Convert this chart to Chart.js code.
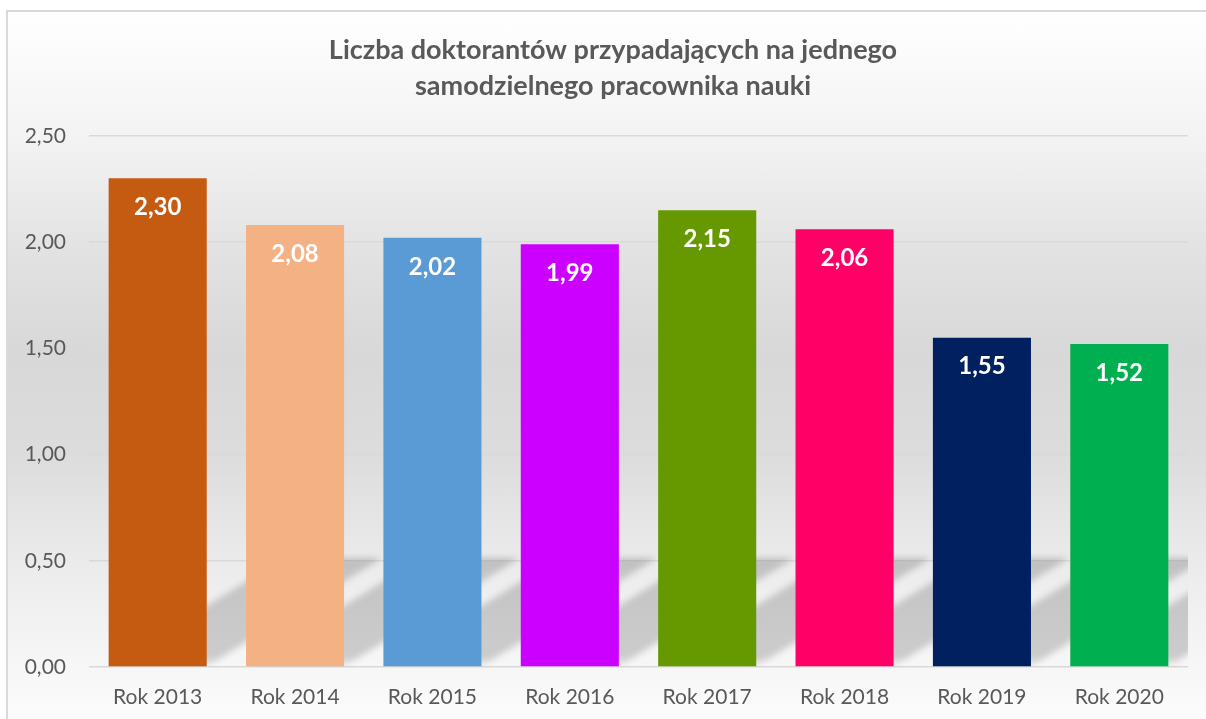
<!DOCTYPE html>
<html>
<head>
<meta charset="utf-8">
<script src="https://cdn.jsdelivr.net/npm/chart.js@4.4.1/dist/chart.umd.min.js"></script>
<style>
  html, body { margin: 0; padding: 0; background: #ffffff; width: 1206px; height: 719px; overflow: hidden; }
  #frame {
    position: absolute; left: 6px; top: 10px; width: 1220px; height: 730px;
    border: 2px solid #d9d9d9; box-sizing: border-box;
    background: linear-gradient(to bottom,
      #ffffff 0px, #f3f3f3 126px, #e2e2e2 240px, #d8d8d8 340px,
      #dcdcdc 440px, #ebebeb 550px, #f4f4f4 630px, #fcfcfc 709px, #ffffff 730px);
  }
  #wrap { position: absolute; left: 0; top: 0; width: 1206px; height: 719px; }
</style>
</head>
<body>
<div id="frame"></div>
<div id="wrap"><canvas id="c" width="1206" height="719"></canvas></div>
<script>
const titleLines = ['Liczba doktorantów przypadających na jednego', 'samodzielnego pracownika nauki'];
const categories = ['Rok 2013', 'Rok 2014', 'Rok 2015', 'Rok 2016', 'Rok 2017', 'Rok 2018', 'Rok 2019', 'Rok 2020'];
const values = [2.30, 2.08, 2.02, 1.99, 2.15, 2.06, 1.55, 1.52];
const barColors = ['#c55a11', '#f4b183', '#5b9bd5', '#cc00ff', '#669900', '#ff0066', '#002060', '#00b050'];
const yMin = 0, yMax = 2.5, yStep = 0.5;

const fmt = v => v.toFixed(2).replace('.', ',');

// centre the title block over the plot frame rather than the full canvas
const titleShift = {
  id: 'titleShift',
  afterLayout(chart) {
    if (chart.titleBlock) chart.titleBlock.left = 38;
  }
};

// soft perspective shadows cast up-right behind each bar
const shadowPlugin = {
  id: 'barShadows',
  beforeDatasetsDraw(chart) {
    const ctx = chart.ctx;
    const area = chart.chartArea;
    const meta = chart.getDatasetMeta(0);
    ctx.save();
    ctx.beginPath();
    ctx.rect(area.left, area.top, area.right - area.left, area.bottom - area.top);
    ctx.clip();
    ctx.filter = 'blur(3px)';
    meta.data.forEach(bar => {
      const h = 108, dx = 175;
      const xl = bar.x - bar.width / 2, xr = bar.x + bar.width / 2, b = bar.base;
      const g = ctx.createLinearGradient(0, b, 0, b - h);
      g.addColorStop(0, 'rgba(0,0,0,0.02)');
      g.addColorStop(0.08, 'rgba(0,0,0,0.17)');
      g.addColorStop(0.9, 'rgba(0,0,0,0.17)');
      g.addColorStop(1, 'rgba(0,0,0,0.2)');
      ctx.fillStyle = g;
      ctx.beginPath();
      ctx.moveTo(xl, b);
      ctx.lineTo(xr, b);
      ctx.lineTo(xr + dx, b - h);
      ctx.lineTo(xl + dx, b - h);
      ctx.closePath();
      ctx.fill();
    });
    ctx.restore();
  }
};

const labelPlugin = {
  id: 'barLabels',
  afterDatasetsDraw(chart) {
    const ctx = chart.ctx;
    const meta = chart.getDatasetMeta(0);
    ctx.save();
    ctx.font = 'bold 24px Lato';
    ctx.fillStyle = '#ffffff';
    ctx.textAlign = 'center';
    ctx.textBaseline = 'middle';
    meta.data.forEach((bar, i) => {
      ctx.fillText(fmt(values[i]), bar.x, bar.y + 29);
    });
    ctx.restore();
  }
};

new Chart(document.getElementById('c'), {
  type: 'bar',
  data: {
    labels: categories,
    datasets: [{
      data: values,
      backgroundColor: barColors,
      borderWidth: 0,
      categoryPercentage: 1,
      barPercentage: 0.714
    }]
  },
  options: {
    responsive: false,
    animation: false,
    layout: { padding: { left: 0, right: 18, top: 0, bottom: 0 } },
    plugins: {
      legend: { display: false },
      tooltip: { enabled: false },
      title: {
        display: true,
        text: titleLines,
        color: '#595959',
        font: { family: 'Lato', size: 27, weight: 'bold', lineHeight: 1.33 },
        padding: { top: 32, bottom: 32 }
      }
    },
    scales: {
      x: {
        grid: { display: false, drawTicks: false },
        border: { display: false },
        ticks: { color: '#595959', font: { family: 'Lato', size: 21 }, padding: 18, maxRotation: 0 },
        afterFit(scale) { scale.height = 52; }
      },
      y: {
        min: yMin, max: yMax,
        grid: { color: '#d9d9d9', lineWidth: 1.5, drawTicks: false },
        border: { display: false },
        ticks: {
          stepSize: yStep, color: '#595959', font: { family: 'Lato', size: 21 }, padding: 23,
          callback: v => fmt(v)
        },
        afterFit(scale) { scale.width = 89; }
      }
    }
  },
  plugins: [titleShift, shadowPlugin, labelPlugin]
});
</script>
</body>
</html>
